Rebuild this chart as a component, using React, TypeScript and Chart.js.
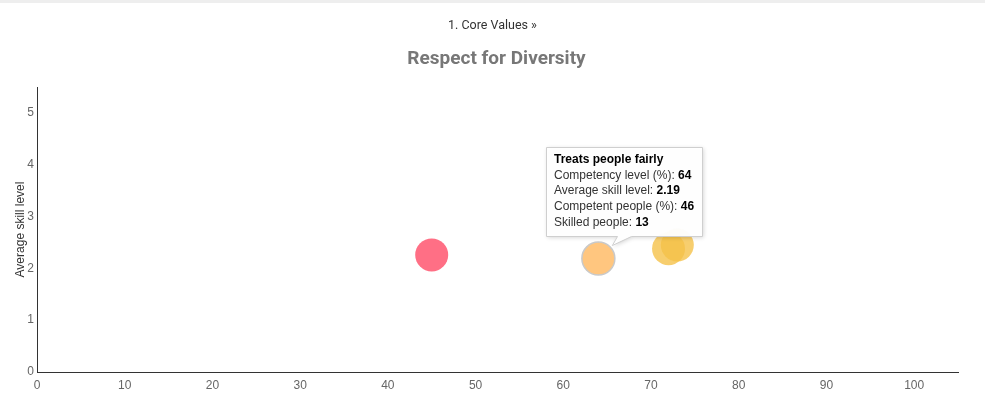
import React, { useEffect, useRef } from "react";
import { Chart, registerables } from "chart.js";

Chart.register(...registerables);

const breadcrumb = "1. Core Values »";
const chartTitle = "Respect for Diversity";
const xAxisTicks = [0, 10, 20, 30, 40, 50, 60, 70, 80, 90, 100];
const yAxisTicks = [0, 1, 2, 3, 4, 5];
const yAxisTitle = "Average skill level";

const competencyNames = ["Competency A", "Treats people fairly", "Competency C", "Competency D"];
const competencyLevel = [45, 64, 72, 73];
const averageSkill = [2.26, 2.19, 2.38, 2.45];
const competentPeople = [null, 46, null, null];
const skilledPeople = [null, 13, null, null];
const pointColors = ["#ff6f85", "#ffc67f", "rgba(245,194,74,0.8)", "rgba(245,194,74,0.8)"];
const activeIndex = 1;

const tooltipPlugin = {
  id: "fixedTooltip",
  afterDatasetsDraw(chart: any) {
    const meta = chart.getDatasetMeta(0);
    const el = meta.data[activeIndex];
    if (!el) return;
    const px = el.x;
    const py = el.y;
    const ctx = chart.ctx as CanvasRenderingContext2D;
    const lines: [string, string][] = [
      ["Competency level (%): ", String(competencyLevel[activeIndex])],
      ["Average skill level: ", averageSkill[activeIndex].toFixed(2)],
      ["Competent people (%): ", String(competentPeople[activeIndex])],
      ["Skilled people: ", String(skilledPeople[activeIndex])],
    ];
    const normal = "12px 'Liberation Sans', Arial, sans-serif";
    const bold = "bold 12px 'Liberation Sans', Arial, sans-serif";
    ctx.save();
    let w = 0;
    ctx.font = bold;
    w = Math.max(w, ctx.measureText(competencyNames[activeIndex]).width);
    lines.forEach(([a, b]) => {
      ctx.font = normal;
      const wa = ctx.measureText(a).width;
      ctx.font = bold;
      const wb = ctx.measureText(b).width;
      w = Math.max(w, wa + wb);
    });
    const boxW = Math.round(w + 16);
    const boxH = 89;
    const left = Math.round(px - 52) + 0.5;
    const bottom = Math.round(py - 23) + 0.5;
    const top = bottom - boxH;
    const right = left + boxW;
    const tipX = px + 14;
    const tipY = py - 13;

    ctx.beginPath();
    ctx.moveTo(left, top);
    ctx.lineTo(right, top);
    ctx.lineTo(right, bottom);
    ctx.lineTo(left + 85, bottom);
    ctx.lineTo(tipX, tipY);
    ctx.lineTo(left + 71, bottom);
    ctx.lineTo(left, bottom);
    ctx.closePath();
    ctx.shadowColor = "rgba(0,0,0,0.18)";
    ctx.shadowBlur = 4;
    ctx.shadowOffsetX = 1;
    ctx.shadowOffsetY = 1;
    ctx.fillStyle = "rgba(255,255,255,0.97)";
    ctx.fill();
    ctx.shadowColor = "transparent";
    ctx.strokeStyle = "#cfcfcf";
    ctx.lineWidth = 1;
    ctx.stroke();

    ctx.textBaseline = "middle";
    ctx.textAlign = "left";
    const tx = left + 7.5;
    ctx.font = bold;
    ctx.fillStyle = "#000";
    ctx.fillText(competencyNames[activeIndex], tx, top + 12);
    lines.forEach(([a, b], i) => {
      const ly = top + 12 + 15.75 * (i + 1);
      ctx.font = normal;
      ctx.fillStyle = "#333";
      ctx.fillText(a, tx, ly);
      const wa = ctx.measureText(a).width;
      ctx.font = bold;
      ctx.fillStyle = "#000";
      ctx.fillText(b, tx + wa, ly);
    });
    ctx.restore();
  },
};

export default function App() {
  const ref = useRef<HTMLCanvasElement | null>(null);

  useEffect(() => {
    if (!ref.current) return;
    const data = competencyLevel.map((x, i) => ({ x, y: averageSkill[i] }));
    const chart = new Chart(ref.current, {
      type: "bubble",
      data: {
        labels: competencyNames,
        datasets: [
          {
            label: chartTitle,
            data,
            backgroundColor: pointColors,
            borderColor: pointColors.map((c, i) => (i === activeIndex ? "#c9c9c9" : c)),
            borderWidth: pointColors.map((_, i) => (i === activeIndex ? 1.5 : 0)),
            radius: 16.5,
            hoverRadius: 0,
          } as any,
        ],
      },
      options: {
        responsive: false,
        animation: false,
        events: [],
        layout: { padding: { top: 87, right: 27, bottom: 0, left: 0 } },
        plugins: {
          legend: { display: false },
          tooltip: { enabled: false },
          title: { display: false },
        },
        scales: {
          x: {
            type: "linear",
            min: 0,
            max: 105,
            afterFit: (s: any) => {
              s.height = 24;
            },
            afterBuildTicks: (s: any) => {
              s.ticks = xAxisTicks.map((v) => ({ value: v }));
            },
            grid: { display: false, drawTicks: false },
            border: { display: true, color: "#333", width: 1 },
            ticks: {
              padding: 6,
              color: "#666",
              font: { family: "'Liberation Sans', Arial, sans-serif", size: 12 },
              includeBounds: false,
              maxRotation: 0,
            },
          },
          y: {
            type: "linear",
            min: 0,
            max: 5.5,
            afterFit: (s: any) => {
              s.width = 37;
            },
            afterBuildTicks: (s: any) => {
              s.ticks = yAxisTicks.map((v) => ({ value: v }));
            },
            grid: { display: false, drawTicks: false },
            border: { display: true, color: "#333", width: 1 },
            ticks: {
              padding: 3,
              color: "#666",
              font: { family: "'Liberation Sans', Arial, sans-serif", size: 12 },
              includeBounds: false,
            },
            title: {
              display: true,
              text: yAxisTitle,
              color: "#333",
              font: { family: "'Liberation Sans', Arial, sans-serif", size: 12 },
              padding: { top: 13, bottom: 0 },
            },
          },
        },
      },
      plugins: [tooltipPlugin],
    });
    return () => chart.destroy();
  }, []);

  return (
    <div style={{ position: "absolute", left: 0, top: 0, width: 985, height: 396, background: "#fff", overflow: "hidden" }}>
      <div style={{ position: "absolute", left: 0, top: 0, width: 985, height: 3, background: "#eeeeee" }} />
      <canvas ref={ref} width={985} height={396} style={{ position: "absolute", left: 0, top: 0 }} />
      <div
        style={{
          position: "absolute",
          left: 0,
          top: 17,
          width: 985,
          textAlign: "center",
          fontFamily: "Roboto, 'Noto Sans', sans-serif",
          fontSize: 12.5,
          lineHeight: "16px",
          color: "#333",
        }}
      >
        {breadcrumb}
      </div>
      <div
        style={{
          position: "absolute",
          left: 4,
          top: 45,
          width: 985,
          textAlign: "center",
          fontFamily: "Roboto, 'Noto Sans', sans-serif",
          fontWeight: "bold",
          fontSize: 19,
          lineHeight: "26px",
          color: "#777",
        }}
      >
        {chartTitle}
      </div>
    </div>
  );
}
